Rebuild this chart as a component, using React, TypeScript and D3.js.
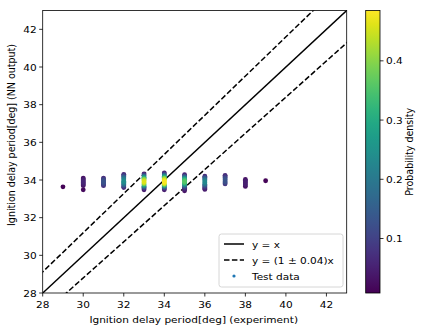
import React from "react";
import * as d3 from "d3";

const W = 423;
const H = 335;

const xTicks = [28, 30, 32, 34, 36, 38, 40, 42];
const yTicks = [28, 30, 32, 34, 36, 38, 40, 42];
const cbTicks = [0.1, 0.2, 0.3, 0.4];
const axisDomain: [number, number] = [28, 43];
const cbDomain: [number, number] = [0.008, 0.485];
const tolerance = 0.04;

// Test data columns: experiment value, and [NN output, probability density] pairs
const col29: [number, number][] = [[33.64, 0.012]];
const col30: [number, number][] = [
  [34.1, 0.03], [34.05, 0.04], [34.0, 0.05], [33.95, 0.055], [33.9, 0.06],
  [33.85, 0.055], [33.8, 0.05], [33.75, 0.04], [33.7, 0.03], [33.48, 0.02],
];
const col31: [number, number][] = [
  [34.1, 0.07], [34.05, 0.09], [34.0, 0.11], [33.95, 0.12], [33.9, 0.13],
  [33.85, 0.12], [33.8, 0.11], [33.75, 0.09], [33.7, 0.07],
];
const col32: [number, number][] = [
  [34.3, 0.06], [34.24, 0.09], [34.18, 0.13], [34.12, 0.17], [34.06, 0.2],
  [34.0, 0.22], [33.94, 0.24], [33.88, 0.23], [33.82, 0.2], [33.76, 0.16],
  [33.7, 0.12], [33.64, 0.08], [33.6, 0.06],
];
const col33: [number, number][] = [
  [34.33, 0.05], [34.27, 0.1], [34.21, 0.17], [34.15, 0.25], [34.09, 0.33],
  [34.03, 0.4], [33.97, 0.44], [33.91, 0.46], [33.85, 0.44], [33.79, 0.38],
  [33.73, 0.3], [33.67, 0.21], [33.61, 0.13], [33.55, 0.07], [33.48, 0.04],
];
const col34: [number, number][] = [
  [34.38, 0.05], [34.32, 0.1], [34.26, 0.16], [34.2, 0.24], [34.14, 0.32],
  [34.08, 0.4], [34.02, 0.45], [33.96, 0.47], [33.9, 0.48], [33.84, 0.47],
  [33.78, 0.42], [33.72, 0.33], [33.66, 0.22], [33.6, 0.13], [33.54, 0.07],
  [33.48, 0.04],
];
const col35: [number, number][] = [
  [34.28, 0.05], [34.22, 0.1], [34.16, 0.16], [34.1, 0.23], [34.04, 0.3],
  [33.98, 0.34], [33.92, 0.36], [33.86, 0.34], [33.8, 0.29], [33.74, 0.22],
  [33.68, 0.15], [33.62, 0.1], [33.56, 0.07], [33.5, 0.05], [33.43, 0.03],
];
const col36: [number, number][] = [
  [34.2, 0.07], [34.14, 0.11], [34.08, 0.15], [34.02, 0.19], [33.96, 0.22],
  [33.9, 0.23], [33.84, 0.21], [33.78, 0.18], [33.72, 0.14], [33.66, 0.1],
  [33.6, 0.07], [33.55, 0.05], [33.5, 0.04],
];
const col37: [number, number][] = [
  [34.25, 0.06], [34.19, 0.08], [34.13, 0.1], [34.07, 0.12], [34.01, 0.13],
  [33.95, 0.13], [33.89, 0.12], [33.84, 0.1], [33.79, 0.08],
];
const col38: [number, number][] = [
  [34.03, 0.03], [33.97, 0.04], [33.91, 0.05], [33.85, 0.05], [33.79, 0.05],
  [33.73, 0.04], [33.66, 0.03],
];
const col39: [number, number][] = [[33.96, 0.012]];

const experiment = [29, 30, 31, 32, 33, 34, 35, 36, 37, 38, 39];
const columns = [col29, col30, col31, col32, col33, col34, col35, col36, col37, col38, col39];

const FONT = "'DejaVu Sans', sans-serif";
const SX = 1.055; // horizontal glyph stretch
const SY = 0.95; // vertical glyph squeeze

function HText(props: { x: number; y: number; anchor?: string; children: React.ReactNode }) {
  return (
    <text
      transform={`translate(${props.x},${props.y}) scale(${SX},${SY})`}
      fontSize={10}
      textAnchor={props.anchor || "start"}
      fill="#000"
    >
      {props.children}
    </text>
  );
}

function VText(props: { x: number; y: number; children: React.ReactNode }) {
  return (
    <text
      transform={`translate(${props.x},${props.y}) rotate(-90) scale(${SY},${SX})`}
      fontSize={10}
      textAnchor="middle"
      fill="#000"
    >
      {props.children}
    </text>
  );
}

export default function App() {
  const left = 42.7;
  const right = 346.7;
  const top = 10.5;
  const bottom = 293;
  const x = d3.scaleLinear().domain(axisDomain).range([left, right]);
  const y = d3.scaleLinear().domain(axisDomain).range([bottom, top]);

  const cbLeft = 365.7;
  const cbRight = 380;
  const cb = d3.scaleLinear().domain(cbDomain).range([bottom, top]);
  const color = d3.scaleSequential(d3.interpolateViridis).domain(cbDomain);

  const points = columns
    .flatMap((col, i) => col.map(([yy, d]) => ({ x: experiment[i], y: yy, d })))
    .sort((a, b) => a.d - b.d);

  const line = d3
    .line<[number, number]>()
    .x((p) => x(p[0]))
    .y((p) => y(p[1]));
  const lx: [number, number] = [20, 50];
  const ident = line(lx.map((v) => [v, v] as [number, number]))!;
  const upper = line(lx.map((v) => [v, v * (1 + tolerance)] as [number, number]))!;
  const lower = line(lx.map((v) => [v, v * (1 - tolerance)] as [number, number]))!;

  const stops = d3.range(0, 1.0001, 0.05);

  return (
    <svg
      width={W}
      height={H}
      style={{ position: "absolute", left: 0, top: 0, background: "#fff" }}
      fontFamily={FONT}
    >
      <defs>
        <clipPath id="plotclip">
          <rect x={left} y={top} width={right - left} height={bottom - top} />
        </clipPath>
        <linearGradient id="viridis" x1="0" y1="1" x2="0" y2="0">
          {stops.map((t) => (
            <stop key={t} offset={t} stopColor={d3.interpolateViridis(t)} />
          ))}
        </linearGradient>
      </defs>

      <g clipPath="url(#plotclip)">
        <path d={ident} stroke="#000" strokeWidth={1.5} fill="none" />
        <path d={upper} stroke="#000" strokeWidth={1.5} fill="none" strokeDasharray="5.5,2.4" />
        <path d={lower} stroke="#000" strokeWidth={1.5} fill="none" strokeDasharray="5.5,2.4" />
        {points.map((p, i) => (
          <circle key={i} cx={x(p.x)} cy={y(p.y)} r={2.4} fill={color(p.d)} />
        ))}
      </g>

      <rect x={left} y={top} width={right - left} height={bottom - top} fill="none" stroke="#000" strokeWidth={0.8} />

      {xTicks.map((t) => (
        <g key={"x" + t}>
          <line x1={x(t)} x2={x(t)} y1={bottom} y2={bottom + 3.5} stroke="#000" strokeWidth={0.8} />
          <HText x={x(t)} y={bottom + 15} anchor="middle">{t}</HText>
        </g>
      ))}
      {yTicks.map((t) => (
        <g key={"y" + t}>
          <line x1={left - 3.5} x2={left} y1={y(t)} y2={y(t)} stroke="#000" strokeWidth={0.8} />
          <HText x={left - 6} y={y(t) + 3.5} anchor="end">{t}</HText>
        </g>
      ))}

      <HText x={(left + right) / 2 - 1} y={323} anchor="middle">
        Ignition delay period[deg] (experiment)
      </HText>
      <VText x={15} y={135}>
        Ignition delay period[deg] (NN output)
      </VText>

      {/* legend */}
      <g>
        <rect x={219} y={234} width={124} height={53} rx={2.5} fill="#fff" fillOpacity={0.8} stroke="#ccc" strokeWidth={0.8} />
        <line x1={224} x2={244} y1={244} y2={244} stroke="#000" strokeWidth={1.5} />
        <HText x={252} y={247.5}>y = x</HText>
        <line x1={224} x2={244} y1={260} y2={260} stroke="#000" strokeWidth={1.5} strokeDasharray="5.5,2.4" />
        <HText x={252} y={263.5}>y = (1 ± 0.04)x</HText>
        <circle cx={234} cy={276} r={1.6} fill="#1f77b4" />
        <HText x={252} y={279.5}>Test data</HText>
      </g>

      {/* colorbar */}
      <rect x={cbLeft} y={top} width={cbRight - cbLeft} height={bottom - top} fill="url(#viridis)" />
      <rect x={cbLeft} y={top} width={cbRight - cbLeft} height={bottom - top} fill="none" stroke="#000" strokeWidth={0.8} />
      {cbTicks.map((t) => (
        <g key={"c" + t}>
          <line x1={cbRight} x2={cbRight + 3.5} y1={cb(t)} y2={cb(t)} stroke="#000" strokeWidth={0.8} />
          <HText x={cbRight + 6} y={cb(t) + 3.5}>{t.toFixed(1)}</HText>
        </g>
      ))}
      <VText x={413} y={(top + bottom) / 2}>
        Probability density
      </VText>
    </svg>
  );
}
